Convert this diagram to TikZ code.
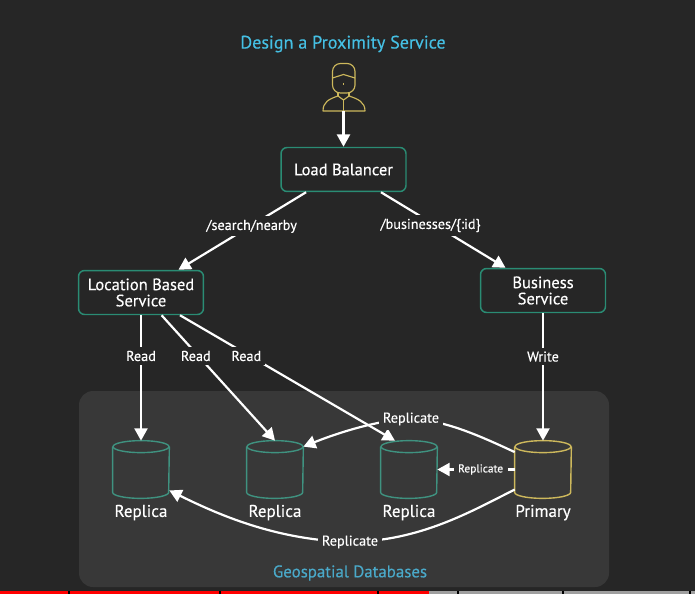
\documentclass[tikz,border=0pt]{standalone}
\usepackage{fontspec}
\setmainfont{PT Sans}[FakeBold=0.3]
\usetikzlibrary{arrows.meta,positioning}
\definecolor{bgdark}{HTML}{262626}
\definecolor{panelgray}{HTML}{383838}
\definecolor{boxteal}{HTML}{2A8C74}
\definecolor{dbteal}{HTML}{3F9280}
\definecolor{dbyellow}{HTML}{CDB85C}
\definecolor{titlecyan}{HTML}{45C0E4}
\definecolor{geocyan}{HTML}{4AA9C9}

\begin{document}
\begin{tikzpicture}[
    x=0.02cm, y=-0.02cm,
    >={Triangle[width=7.4pt,length=7pt]},
    svcbox/.style={draw=boxteal, line width=0.85pt, rounded corners=3.5pt, fill=bgdark, text=white,
      minimum width=2.5cm, minimum height=0.88cm, align=center, font=\fontsize{9.4}{9.2}\selectfont, inner sep=0pt},
    dbcan/.style={minimum width=1.12cm, minimum height=1.14cm, inner sep=0pt},
    flow/.style={->, white, line width=1.25pt},
    flowlabel/.style={fill=bgdark, text=white, font=\fontsize{8.1}{8}\selectfont, inner sep=2pt},
    replabel/.style={fill=panelgray, text=white, font=\fontsize{8.1}{8}\selectfont, inner sep=2.5pt},
    dblabel/.style={text=white, font=\fontsize{9.7}{10}\selectfont, inner sep=0pt},
  ]
  % background and margins
  \fill[bgdark] (0,0) rectangle (695,594);
  \useasboundingbox (0,0) rectangle (695,594);

  % progress bar
  \fill[red] (0,591) rectangle (429,594);
  \fill[gray!75] (429,591) rectangle (695,594);
  \foreach \barx in {69,220,378,458,563,690} {
    \fill[black] (\barx-0.8,591) rectangle (\barx+0.8,594);
  }

  % panel
  \fill[panelgray, rounded corners=8pt] (79,391) rectangle (609,587);

  \node[font=\fontsize{10.3}{12}\selectfont, text=titlecyan] (title) at (343,44) {Design a Proximity Service};
  \node[font=\fontsize{9.6}{10}\selectfont, text=geocyan] (geo) at (350,573) {Geospatial Databases};

  % user
  \begin{scope}[dbyellow, line width=0.65pt, line join=round]
    \draw[rounded corners=4.5pt] (332.5,63.5) rectangle (355,93);
    \draw (332.5,78) -- (343.5,74.5) -- (355,78);
    \draw (343.5,83) -- (343.5,85.5);
    \draw (323,111) .. controls (323,102) and (329,99) .. (338,96) -- (343.5,100) -- (349,96)
      .. controls (358,99) and (365,102) .. (365,111) -- cycle;
    \draw (338,93) -- (338,96) (349,93) -- (349,96) (343.5,100) -- (343.5,111);
  \end{scope}
  \coordinate (userfoot) at (343.5,111.5);

  % services
  \node[svcbox] (lb) at (343.5,169.5) {Load Balancer};
  \node[svcbox] (locsvc) at (141,292.5) {Location Based\\Service};
  \node[svcbox] (bizsvc) at (543,290.5) {Business\\Service};

  % databases
  \node[dbcan] (rep1) at (141,469.5) {};
  \node[dbcan] (rep2) at (275,469.5) {};
  \node[dbcan] (rep3) at (409,469.5) {};
  \node[dbcan] (primary) at (543,469.5) {};
  \foreach \db/\dbcol in {rep1/dbteal,rep2/dbteal,rep3/dbteal,primary/dbyellow} {
    \draw[\dbcol, line width=0.8pt] ([yshift=-3.4pt]\db.north) ellipse [x radius=28, y radius=6];
    \draw[\dbcol, line width=0.8pt] ([yshift=-3.4pt]\db.north west) -- ([yshift=3.4pt]\db.south west)
      arc [start angle=180, end angle=0, x radius=28, y radius=6] -- ([yshift=-3.4pt]\db.north east);
  }
  \node[dblabel, below=3.5pt of rep1] (rep1lbl) {Replica};
  \node[dblabel, below=3.5pt of rep2] (rep2lbl) {Replica};
  \node[dblabel, below=3.5pt of rep3] (rep3lbl) {Replica};
  \node[dblabel, below=3.5pt of primary] (primarylbl) {Primary};

  % requests
  \draw[flow] (userfoot) -- (lb);
  \draw[flow] (lb) -- node[flowlabel, pos=0.44, xshift=1pt] {/search/nearby} (locsvc);
  \draw[flow] (lb) -- node[flowlabel, pos=0.44, xshift=-3pt] {/businesses/\{:id\}} (bizsvc);

  % reads and writes
  \draw[flow] (locsvc) -- node[flowlabel, pos=0.325] {Read} (rep1.north);
  \draw[flow] (locsvc) -- node[flowlabel, pos=0.325, xshift=-1.5pt] {Read} (rep2.north);
  \draw[flow] (locsvc) -- node[flowlabel, pos=0.325, xshift=-2pt] {Read} ([xshift=-8pt]rep3.north);
  \draw[flow] (bizsvc) -- node[flowlabel, pos=0.34] {Write} (primary.north);

  % replication
  \draw[flow] ([yshift=-6.5pt]primary.north west) .. controls (480,436) and (445,420) .. (411,419)
    node[replabel] {Replicate} .. controls (385,419) and (345,430) .. ([yshift=-3.4pt]rep2.north east);
  \draw[flow] (primary.west) -- node[replabel, pos=0.44, font=\fontsize{6.5}{7}\selectfont] {Replicate} (rep3.east);
  \draw[flow] ([yshift=5pt]primary.south west) .. controls (470,512) and (420,541) .. (350,542)
    node[replabel] {Replicate} .. controls (280,540) and (225,518) .. ([yshift=4.5pt]rep1.south east);
\end{tikzpicture}
\end{document}
